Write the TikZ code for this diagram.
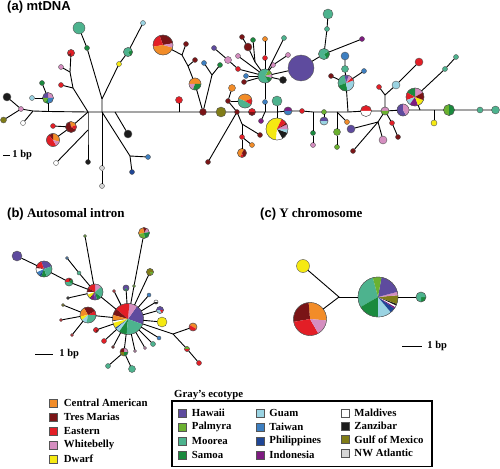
\documentclass[tikz,border=0pt]{standalone}
\usepackage{fontspec}
\setmainfont{Liberation Serif}
\newfontfamily\labsans{Liberation Sans}
\usetikzlibrary{positioning}

\definecolor{cam}{HTML}{F28C28}
\definecolor{tm}{HTML}{7A1416}
\definecolor{east}{HTML}{E31E26}
\definecolor{wb}{HTML}{D58EC0}
\definecolor{dwf}{HTML}{F5E912}
\definecolor{haw}{HTML}{5E4B9E}
\definecolor{pal}{HTML}{6BB130}
\definecolor{moo}{HTML}{4DB38E}
\definecolor{sam}{HTML}{1A8A3E}
\definecolor{gua}{HTML}{9AD3E2}
\definecolor{tai}{HTML}{3D7FC1}
\definecolor{phi}{HTML}{1F4696}
\definecolor{ind}{HTML}{7E1B80}
\definecolor{mal}{HTML}{FFFFFF}
\definecolor{zan}{HTML}{1C1C1C}
\definecolor{gom}{HTML}{807C17}
\definecolor{nwa}{HTML}{D6D6D6}
\definecolor{hapgray}{HTML}{555555}

\tikzset{
  hap/.style={circle,draw=hapgray,line width=0.4pt,fill=#1,inner sep=0pt,outer sep=0pt},
  hap/.default=white,
  sz/.style={minimum size=2*#1pt},
  lnk/.style={line width=0.9pt},
  ttl/.style={font=\bfseries\fontsize{13}{15}\selectfont,anchor=base west,inner sep=0pt},
  bp/.style={font=\bfseries\fontsize{10.5}{12}\selectfont,anchor=west,inner sep=0pt},
  key/.style={rectangle,draw=hapgray,line width=0.5pt,fill=#1,minimum size=8pt,inner sep=0pt},
  keytxt/.style={font=\bfseries\fontsize{10.8}{12}\selectfont,inner sep=0pt}
}

% pie haplotype: name, position, radius, slices colour/from/to
\newcommand{\hpie}[4]{%
  \node[hap,sz=#3] (#1) at (#2) {};
  \foreach \cl/\sa/\ea in {#4}
    \fill[\cl] (#1.center) -- ++(\sa:#3pt) arc[start angle=\sa,end angle=\ea,radius=#3pt] -- cycle;
  \draw[hapgray,line width=0.4pt] (#1.center) circle[radius=#3pt];
}

\begin{document}
\begin{tikzpicture}[x=1pt,y=-1pt]
  \useasboundingbox (0,0) rectangle (500,468);

  % ---------------- (a) mtDNA ----------------
  \node[ttl] (ta) at (7,11) {\labsans (a) mtDNA};
  \draw[lnk] (3,155) -- (10,155) node[bp,right=2pt] {1 bp};

  % left part
  \node[hap=zan,sz=4] (a1) at (7,97) {};
  \node[hap=gom,sz=3] (a2) at (3.5,120) {};
  \node[hap=wb,sz=2.5] (a3) at (21,109) {};
  \node[hap,sz=2.5] (a4) at (23,123) {};
  \node[hap=gua,sz=2.5] (a5) at (32,98) {};
  \hpie{a6}{48,98}{5.5}{wb/0/90,haw/90/180,pal/180/240,sam/240/270,tai/270/360}
  \node[hap=sam,sz=2.5] (a7) at (42,83) {};
  \coordinate (ja1) at (33,111);
  \coordinate (ja2) at (48,111.5);
  \coordinate (hub1) at (88,112);
  \coordinate (hub2) at (102,112);
  \node[hap=east,sz=2.5] (a8) at (61,85) {};
  \coordinate (ju1) at (73,88);
  \coordinate (ju2) at (70,72);
  \node[hap=wb,sz=2.5] (a9) at (61,67) {};
  \hpie{a10}{71,53}{3.5}{east/-90/200,tm/200/270}
  \hpie{a11}{71,127}{5.5}{cam/20/100,tm/100/330,east/330/380}
  \node[hap=east,sz=2.5] (a12) at (53,126) {};
  \hpie{a13}{53,140}{6.5}{cam/-15/90,tm/90/130,east/130/300,wb/300/345}
  \coordinate (jw) at (88,130);
  \node[hap,sz=2.5] (a14) at (56,163) {};
  \node[hap=zan,sz=2.5] (a15) at (88,162) {};
  \coordinate (jv) at (102,99);
  \node[hap=sam,sz=2.5] (a16) at (87,48) {};
  \node[hap=moo,sz=6] (a17) at (79,28) {};
  \node[hap=dwf,sz=2.5] (a18) at (119,64) {};
  \hpie{a19}{128,52}{4.5}{sam/-60/30,moo/30/300}
  \node[hap=gua,sz=2.5] (a20) at (143,23) {};
  \coordinate (ja3) at (115,112);
  \node[hap=zan,sz=4] (a21) at (128,134) {};
  \node[hap=nwa,sz=2.5] (a22) at (102,168) {};
  \node[hap=nwa,sz=2.5] (a23) at (102,186) {};
  \coordinate (jd) at (130,156);
  \node[hap=tai,sz=2.5] (a24) at (148,157) {};
  \node[hap=phi,sz=2.5] (a25) at (132,172) {};

  % middle part
  \coordinate (ja4) at (179,112);
  \node[hap=east,sz=3.5] (a26) at (179,100) {};
  \node[hap=tm,sz=3.5] (a27) at (203,112) {};
  \hpie{a28}{163,45}{10}{tm/10/110,east/110/190,cam/190/345,wb/345/370}
  \coordinate (ja5) at (182,55);
  \node[hap=tm,sz=2.5] (a29) at (186,44) {};
  \coordinate (ja6) at (188,66);
  \node[hap=tm,sz=2.5] (a30) at (195,60) {};
  \hpie{a31}{195,84}{6}{cam/0/180,wb/180/250,sam/250/360}
  \coordinate (ja7) at (212,75);
  \node[hap=sam,sz=2.5] (a32) at (220,65) {};
  \node[hap=tai,sz=2.5] (a33) at (204,63) {};

  \node[hap=gom,sz=5] (m1) at (221,112) {};
  \node[hap=tm,sz=2.5] (m2) at (237,112) {};
  \hpie{m3}{252,112}{3.5}{east/0/180,tm/180/360}
  \coordinate (ja15) at (265,112);
  \node[hap=tai,sz=2.5] (m4) at (265,102) {};
  \node[hap=ind,sz=2.5] (m5) at (261,121) {};
  \coordinate (ja16) at (277,112);
  \node[hap=moo,sz=5] (m6) at (277,101) {};
  \hpie{m7}{277,129}{11}{dwf/65/265,mal/265/300,zan/300/340,gua/340/360,wb/0/25,tm/25/35,east/35/65}
  \hpie{m8}{288,111}{4}{ind/0/180,tai/180/360}
  \node[hap=east,sz=2.5] (m9) at (302,111) {};
  \node[hap=tm,sz=2.5] (m10) at (228,101) {};
  \node[hap=cam,sz=3.5] (m11) at (232,88) {};
  \hpie{m12}{245,101}{7}{cam/20/160,moo/160/330,east/330/380}
  \node[hap=tm,sz=2.5] (m13) at (208,162) {};
  \coordinate (ja17) at (242,124);
  \node[hap=tm,sz=2.5] (m14) at (260,135) {};
  \node[hap=east,sz=2.5] (m15) at (242,137) {};
  \hpie{m16}{242,153}{4.5}{cam/60/250,east/250/290,tm/290/420}
  \node[hap=cam,sz=2.5] (m17) at (252,145) {};

  % teal cluster
  \hpie{T}{265,76}{7}{pal/15/60,moo/60/300,sam/300/345,wb/345/375}
  \node[hap=tm,sz=2.5] (c1) at (242,37) {};
  \node[hap=tm,sz=4] (c2) at (248,47) {};
  \node[hap=sam,sz=2.5] (c3) at (253,40) {};
  \coordinate (jc1) at (255,62);
  \node[hap=east,sz=2.5] (c4) at (265,58) {};
  \node[hap=cam,sz=2.5] (c5) at (265,39) {};
  \node[hap=moo,sz=2.5] (c6) at (284,38) {};
  \node[hap=wb,sz=2.5] (c7) at (273,65) {};
  \node[hap=wb,sz=2.5] (c8) at (288,55) {};
  \node[hap=wb,sz=2.5] (c9) at (238,56) {};
  \node[hap=east,sz=2.5] (c10) at (238,69) {};
  \node[hap=wb,sz=3.5] (c11) at (228,60) {};
  \node[hap=haw,sz=2.5] (c12) at (214,48) {};
  \node[hap=tai,sz=2.5] (c13) at (246,76) {};
  \node[hap=tm,sz=2.5] (c14) at (244,82) {};
  \node[hap=zan,sz=3.5] (c15) at (283,80) {};
  \node[hap=haw,sz=13] (c16) at (301,68) {};
  \hpie{c17}{324,54}{5.5}{sam/-60/30,moo/30/300}
  \node[hap=moo,sz=2.5] (c18) at (327,29) {};
  \node[hap=moo,sz=5] (c19) at (328,14) {};
  \node[hap=ind,sz=2.5] (c20) at (362,39) {};

  % right part
  \coordinate (ja8) at (313,112);
  \node[hap=sam,sz=2.5] (b2) at (313,133) {};
  \node[hap=wb,sz=2.5] (b3) at (313,145) {};
  \node[hap=pal,sz=2.5] (b4) at (324,112) {};
  \hpie{b5}{324,121}{4}{haw/0/180,gua/180/360}
  \coordinate (ja9) at (337,112);
  \node[hap=pal,sz=3.5] (b6) at (337,132) {};
  \node[hap=pal,sz=2.5] (b7) at (337,147) {};
  \node[hap=cam,sz=2.5] (b8) at (347,122) {};
  \coordinate (ja10) at (348,112);
  \hpie{b9}{346,83}{8}{moo/100/200,sam/200/280,gua/280/380,east/20/45,wb/45/70,haw/70/100}
  \node[hap=moo,sz=3.5] (b10) at (345,69) {};
  \node[hap=tai,sz=4] (b11) at (345,56) {};
  \node[hap=tm,sz=2.5] (b12) at (331,76) {};
  \node[hap=tai,sz=2.5] (b13) at (364,71) {};
  \hpie{b14}{366,111}{5.5}{east/0/180,mal/180/360}
  \hpie{b15}{385,111}{4}{wb/0/180,pal/180/360}
  \coordinate (ja11) at (385,95);
  \node[hap=east,sz=2.5] (b16) at (379,87) {};
  \node[hap=gua,sz=4] (b17) at (396,85) {};
  \node[hap=east,sz=4] (b18) at (419,62) {};
  \coordinate (ja12) at (378,122);
  \node[hap=haw,sz=4] (b19) at (351,129) {};
  \node[hap=tm,sz=2.5] (b20) at (353,151) {};
  \node[hap=wb,sz=4] (b21) at (383,140) {};
  \node[hap=east,sz=2.5] (b22) at (392,123) {};
  \node[hap=tm,sz=2.5] (b23) at (398,137) {};
  \hpie{b24}{403,110}{6}{haw/90/300,wb/300/450}
  \coordinate (ja13) at (420,110);
  \hpie{b25}{415,97}{9}{wb/30/90,sam/90/150,east/150/200,gua/200/235,ind/235/290,dwf/290/340,tm/340/390}
  \node[hap=moo,sz=2.5] (b26) at (445,69) {};
  \node[hap=moo,sz=2.5] (b27) at (456,57) {};
  \coordinate (ja14) at (434,110);
  \node[hap=dwf,sz=3] (b28) at (434,123) {};
  \hpie{b29}{449,110}{5.5}{pal/90/270,sam/270/450}
  \node[hap=moo,sz=3] (b30) at (480,110) {};
  \node[hap=moo,sz=4] (b31) at (495.5,110) {};

  % links (a)
  \draw[lnk] (a3) -- (ja1) -- (ja2) -- (hub1) -- (hub2) -- (ja3) -- (ja4) -- (a27) -- (m1) -- (m2) -- (m3)
    -- (ja15) -- (ja16) -- (m8) -- (m9) -- (ja8) -- (b4) -- (ja9) -- (ja10) -- (b14) -- (b15) -- (b24)
    -- (ja13) -- (ja14) -- (b29) -- (b30) -- (b31);
  \draw[lnk] (a1) -- (a3);
  \draw[lnk] (a2) -- (a3);
  \draw[lnk] (a4) -- (ja1);
  \draw[lnk] (a5) -- (a6);
  \draw[lnk] (a7) -- (a6);
  \draw[lnk] (a6) -- (ja2);
  \draw[lnk] (hub1) -- (ju1) -- (ju2) -- (a10);
  \draw[lnk] (a8) -- (ju1);
  \draw[lnk] (a9) -- (ju2);
  \draw[lnk] (hub1) -- (a11);
  \draw[lnk] (a12) -- (a11);
  \draw[lnk] (a13) -- (a11);
  \draw[lnk] (hub1) -- (jw) -- (a15);
  \draw[lnk] (a14) -- (jw);
  \draw[lnk] (hub2) -- (jv) -- (a16) -- (a17);
  \draw[lnk] (jv) -- (a18) -- (a19) -- (a20);
  \draw[lnk] (ja3) -- (a21);
  \draw[lnk] (hub2) -- (a22) -- (a23);
  \draw[lnk] (hub2) -- (jd) -- (a24);
  \draw[lnk] (jd) -- (a25);
  \draw[lnk] (ja4) -- (a26);
  \draw[lnk] (a28) -- (ja5) -- (ja6) -- (a31) -- (a27);
  \draw[lnk] (ja5) -- (a29);
  \draw[lnk] (ja6) -- (a30);
  \draw[lnk] (a27) -- (ja7) -- (a32);
  \draw[lnk] (ja7) -- (a33);
  \draw[lnk] (m2) -- (m10) -- (m11);
  \draw[lnk] (m10) -- (m12);
  \draw[lnk] (m2) -- (m13);
  \draw[lnk] (m2) -- (ja17) -- (m14);
  \draw[lnk] (ja17) -- (m15) -- (m16);
  \draw[lnk] (m15) -- (m17);
  \draw[lnk] (T) -- (jc1) -- (c2) -- (c1);
  \draw[lnk] (jc1) -- (c3);
  \draw[lnk] (T) -- (c4) -- (c5);
  \draw[lnk] (T) -- (c6);
  \draw[lnk] (T) -- (c7) -- (c8);
  \draw[lnk] (T) -- (c9);
  \draw[lnk] (T) -- (c10) -- (c11) -- (c12);
  \draw[lnk] (T) -- (c13);
  \draw[lnk] (T) -- (c14);
  \draw[lnk] (T) -- (c15);
  \draw[lnk] (T) -- (c16) -- (c17) -- (c18) -- (c19);
  \draw[lnk] (c17) -- (c20);
  \draw[lnk] (T) -- (m4) -- (ja15);
  \draw[lnk] (m5) -- (ja15);
  \draw[lnk] (ja16) -- (m6);
  \draw[lnk] (ja16) -- (m7);
  \draw[lnk] (ja8) -- (b2) -- (b3);
  \draw[lnk] (b4) -- (b5);
  \draw[lnk] (ja9) -- (b6) -- (b7);
  \draw[lnk] (ja9) -- (b8);
  \draw[lnk] (ja10) -- (b9) -- (b10) -- (b11);
  \draw[lnk] (b9) -- (b12);
  \draw[lnk] (b9) -- (b13);
  \draw[lnk] (b15) -- (ja11) -- (b16);
  \draw[lnk] (ja11) -- (b17) -- (b18);
  \draw[lnk] (b15) -- (ja12) -- (b19);
  \draw[lnk] (ja12) -- (b20);
  \draw[lnk] (ja12) -- (b21);
  \draw[lnk] (b15) -- (b22) -- (b23);
  \draw[lnk] (ja13) -- (b25) -- (b26) -- (b27);
  \draw[lnk] (ja14) -- (b28);

  % ---------------- (b) Autosomal intron ----------------
  \node[ttl] (tb) at (7,217) {{\labsans (b)} Autosomal intron};
  \draw[lnk] (35,354) -- (53,354) node[bp,right=6pt] {1 bp};

  \node[hap=haw,sz=5] (i1) at (17,256) {};
  \hpie{i2}{44,269}{8}{haw/20/110,east/110/160,tm/160/175,mal/175/205,tai/205/235,phi/235/250,sam/250/290,moo/290/380}
  \hpie{i3}{69,282}{4}{tm/45/90,east/90/180,moo/180/330,sam/330/405}
  \hpie{i4}{95,292}{8}{wb/40/90,east/90/150,tm/150/180,mal/180/200,dwf/200/230,zan/230/235,ind/235/260,haw/260/285,sam/285/320,moo/320/400}
  \hpie{i5}{128,319}{15.5}{haw/-20/55,wb/55/85,east/85/140,tm/140/165,cam/165/185,zan/185/188,mal/188/195,dwf/195/215,phi/215/220,gua/220/235,sam/235/265,moo/265/340}
  \hpie{i6}{88,315}{8}{east/0/30,tm/30/120,cam/120/190,dwf/190/220,gua/220/260,moo/260/360}
  \node[hap=moo,sz=2] (i7) at (79,273) {};
  \node[hap=tai,sz=1.5] (i8) at (67,258) {};
  \node[hap=zan,sz=1.5] (i9) at (68,298) {};
  \node[hap=pal,sz=1.5] (i10) at (85,236) {};
  \node[hap=east,sz=1.5] (i11) at (114,291) {};
  \node[hap=gom,sz=1.5] (i12) at (63,305) {};
  \node[hap=east,sz=1.5] (i13) at (61,320) {};
  \node[hap=east,sz=1.5] (i14) at (72,335) {};
  \hpie{i15}{126,288}{3}{haw/-60/240,sam/240/300}
  \node[hap=pal,sz=1.5] (i16) at (134,286) {};
  \hpie{i17}{144,233}{5.5}{wb/10/60,tm/60/100,cam/100/190,pal/190/280,sam/280/370}
  \hpie{i18}{150,272}{3.5}{gom/0/300,pal/300/360}
  \node[hap=tai,sz=2] (i19) at (149,295) {};
  \hpie{i20}{156,302}{2}{mal/0/180,zan/180/360}
  \hpie{i21}{160,310}{3.5}{haw/0/180,gua/180/300,east/300/360}
  \node[hap=dwf,sz=5] (i22) at (162,322) {};
  \node[hap=tai,sz=2] (i23) at (159,338) {};
  \node[hap=moo,sz=2.5] (i24) at (153,344) {};
  \node[hap=wb,sz=1.5] (i25) at (145,348) {};
  \node[hap=wb,sz=1.5] (i26) at (135,351) {};
  \hpie{i27}{124,352}{4}{wb/0/90,tm/90/180,gom/180/270,sam/270/360}
  \node[hap=tm,sz=1.5] (i28) at (113,347) {};
  \node[hap=east,sz=2.5] (i29) at (104,341) {};
  \hpie{i30}{96,330}{2.5}{east/0/270,tm/270/360}
  \node[hap=moo,sz=2.5] (i31) at (108,366) {};
  \node[hap=moo,sz=3.5] (i32) at (132,369) {};
  \coordinate (ji) at (173,334);
  \hpie{i33}{193,327}{4}{cam/-30/150,east/150/330}
  \hpie{i34}{187,349}{2.5}{pal/0/180,east/180/360}
  \node[hap=east,sz=2.5] (i35) at (199,363) {};

  % links (b)
  \draw[lnk] (i1) -- (i2) -- (i3) -- (i4) -- (i5);
  \draw[lnk] (i4) -- (i7) -- (i8);
  \draw[lnk] (i4) -- (i9);
  \draw[lnk] (i4) -- (i10);
  \draw[lnk] (i5) -- (i6);
  \draw[lnk] (i6) -- (i12);
  \draw[lnk] (i6) -- (i13);
  \draw[lnk] (i6) -- (i14);
  \draw[lnk] (i5) -- (i16) -- (i17);
  \foreach \n in {i11,i15,i18,i19,i20,i21,i22,i23,i24,i25,i26,i27,i28,i29,i30}
    \draw[lnk] (i5) -- (\n);
  \draw[lnk] (i27) -- (i31);
  \draw[lnk] (i27) -- (i32);
  \draw[lnk] (i5) -- (ji) -- (i33);
  \draw[lnk] (ji) -- (i34) -- (i35);

  % ---------------- (c) Y chromosome ----------------
  \node[ttl] (tc) at (260,217) {{\labsans (c)} Y chromosome};
  \draw[lnk] (402,346) -- (422,346) node[bp,right=5pt] {1 bp};

  \node[hap=dwf,sz=6.5] (y1) at (303,266) {};
  \coordinate (jy) at (339,297);
  \hpie{y2}{310,319}{16.5}{cam/-5/95,tm/95/190,east/190/300,wb/300/355}
  \hpie{y3}{378,297}{20}{moo/105/210,sam/210/270,gua/270/310,phi/310/325,ind/325/330,mal/330/335,zan/335/340,gom/340/365,wb/365/375,haw/375/440,pal/440/465}
  \hpie{y4}{421,297}{5}{sam/-90/0,moo/0/270}
  \draw[lnk] (y1) -- (jy) -- (y2);
  \draw[lnk] (jy) -- (y3) -- (y4);

  % ---------------- legend ----------------
  \foreach \cl/\tx [count=\i] in {cam/Central American,tm/Tres Marias,east/Eastern,wb/Whitebelly,dwf/Dwarf} {
    \node[key=\cl] (k\cl) at (53.5,{389+14*\i}) {};
    \node[keytxt,right=6pt of k\cl] {\tx};
  }
  \node[keytxt,anchor=base west] (eco) at (174,397) {Gray's ecotype};
  \draw[line width=1.4pt] (172,401) rectangle (432,466.5);
  \foreach \cl/\tx [count=\i] in {haw/Hawaii,pal/Palmyra,moo/Moorea,sam/Samoa} {
    \node[key=\cl] (k\cl) at (182.5,{399+14*\i}) {};
    \node[keytxt,right=5pt of k\cl] {\tx};
  }
  \foreach \cl/\tx [count=\i] in {gua/Guam,tai/Taiwan,phi/Philippines,ind/Indonesia} {
    \node[key=\cl] (k\cl) at (260.5,{399+14*\i}) {};
    \node[keytxt,right=4.5pt of k\cl] {\tx};
  }
  \foreach \cl/\tx [count=\i] in {mal/Maldives,zan/Zanzibar,gom/Gulf of Mexico,nwa/NW Atlantic} {
    \node[key=\cl] (k\cl) at (345.5,{399.7+13.3*\i}) {};
    \node[keytxt,right=4.5pt of k\cl] {\tx};
  }
\end{tikzpicture}
\end{document}
